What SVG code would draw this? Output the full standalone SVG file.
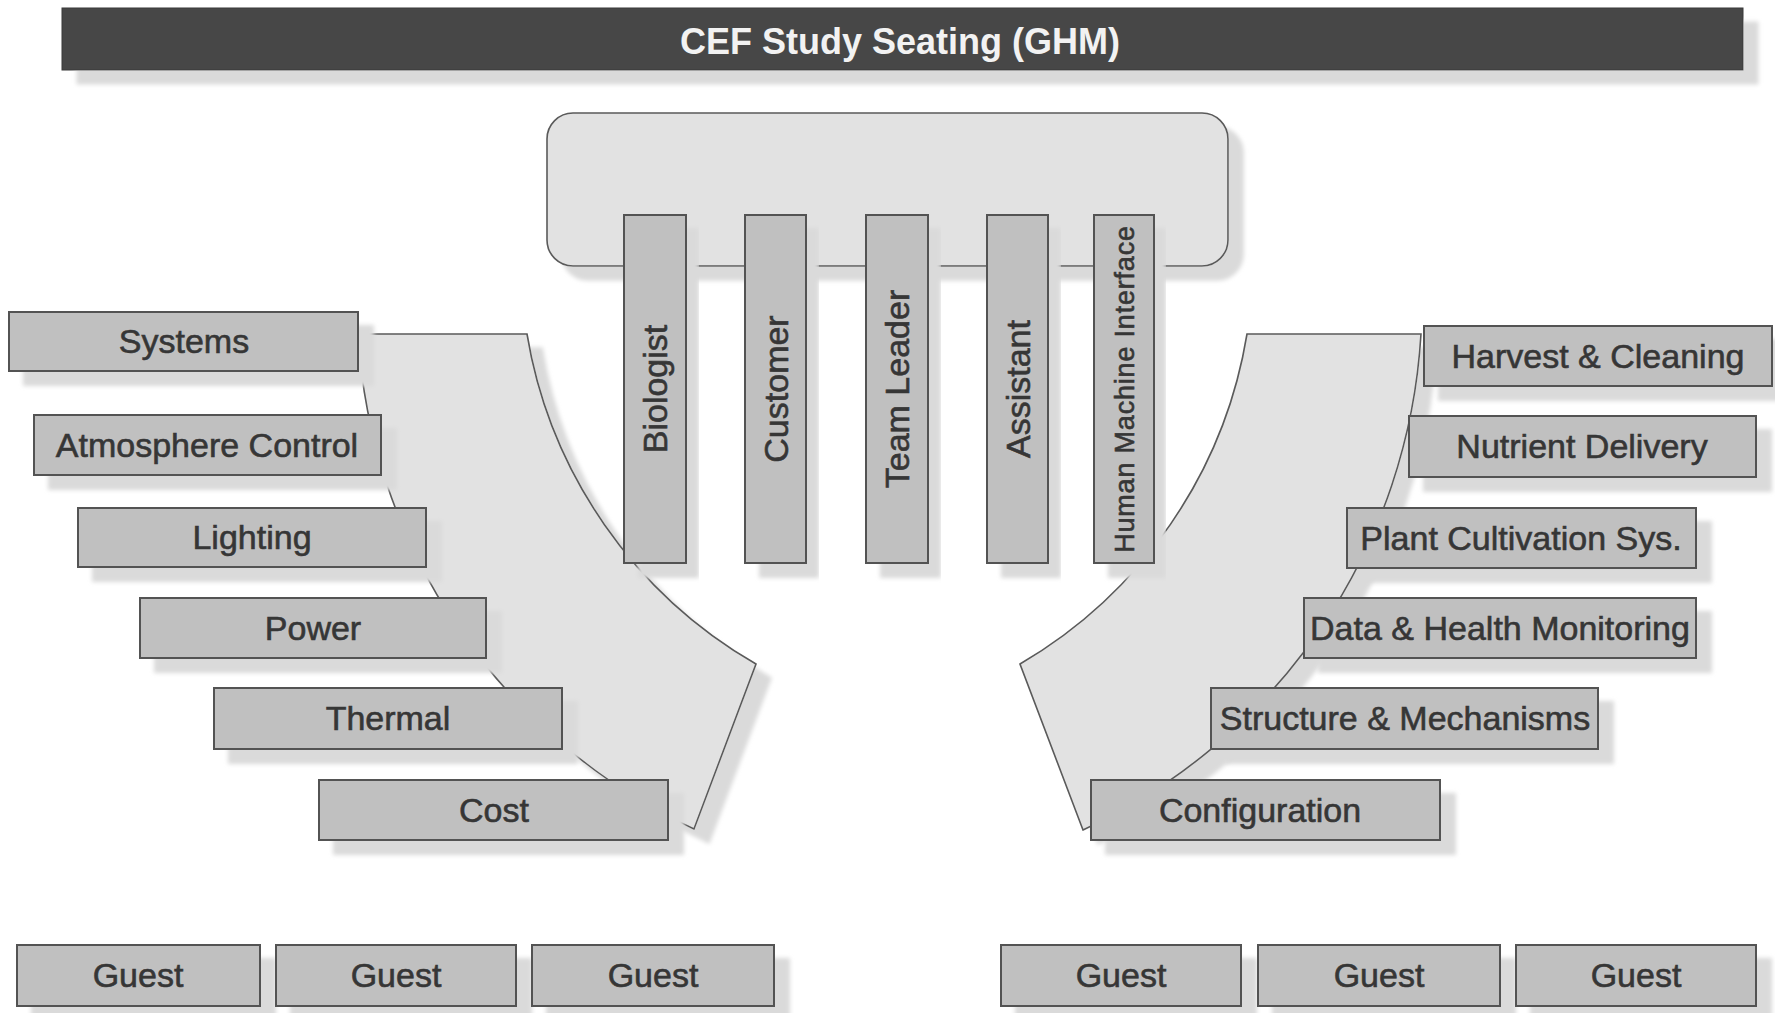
<svg xmlns="http://www.w3.org/2000/svg" width="1775" height="1013" viewBox="0 0 1775 1013">
<defs>
<filter id="sh" x="-10%" y="-10%" width="130%" height="150%">
<feOffset in="SourceAlpha" dx="15" dy="14" result="o"/>
<feGaussianBlur in="o" stdDeviation="2" result="b"/>
<feFlood flood-color="#dadada"/>
<feComposite in2="b" operator="in" result="s"/>
<feMerge><feMergeNode in="s"/><feMergeNode in="SourceGraphic"/></feMerge>
</filter>
<style>
.box{fill:#c0c0c0;stroke:#525252;stroke-width:2;filter:url(#sh)}
.area{fill:#e2e2e2;stroke:#5a5a5a;stroke-width:1.6;filter:url(#sh)}
.lbl{font-family:"Liberation Sans",Arial,sans-serif;font-size:34px;fill:#363636;stroke:#363636;stroke-width:0.6;text-anchor:middle}
.title{font-family:"Liberation Sans",Arial,sans-serif;font-size:36px;font-weight:bold;fill:#f2f2f2;text-anchor:middle}
</style>
</defs>
<rect width="1775" height="1013" fill="#ffffff"/>

<g id="title">
<rect x="62" y="8" width="1681" height="62" fill="#474747" stroke="#3a3a3a" stroke-width="1" filter="url(#sh)"/>
<text class="title" x="900" y="54">CEF Study Seating (GHM)</text>
</g>

<g id="table">
<rect class="area" x="547" y="113" width="681" height="153" rx="26" ry="26"/>
</g>

<g id="left-arc">
<path class="area" d="M358,334 L527,334 A470,470 0 0 0 756,664 L694,829 A584,584 0 0 1 358,334 Z"/>
</g>
<g id="right-arc">
<path class="area" d="M1421,334 L1247,334 A470,470 0 0 1 1020,664 L1083,830 A584,584 0 0 0 1421,334 Z"/>
</g>

<g id="biologist"><rect class="box" x="624" y="215" width="62" height="348"/><text class="lbl" transform="translate(655,389) rotate(-90)" y="12">Biologist</text></g>
<g id="customer"><rect class="box" x="745" y="215" width="61" height="348"/><text class="lbl" transform="translate(775.5,389) rotate(-90)" y="12">Customer</text></g>
<g id="team-leader"><rect class="box" x="866" y="215" width="62" height="348"/><text class="lbl" transform="translate(897,389) rotate(-90)" y="12">Team Leader</text></g>
<g id="assistant"><rect class="box" x="987" y="215" width="61" height="348"/><text class="lbl" transform="translate(1017.5,389) rotate(-90)" y="12">Assistant</text></g>
<g id="hmi"><rect class="box" x="1094" y="215" width="60" height="348"/><text class="lbl" style="font-size:27px;letter-spacing:0.8px" transform="translate(1124,389) rotate(-90)" y="10">Human Machine Interface</text></g>

<g id="systems"><rect class="box" x="9" y="312" width="349" height="59"/><text class="lbl" x="184" y="353">Systems</text></g>
<g id="atmosphere-control"><rect class="box" x="34" y="415" width="347" height="60"/><text class="lbl" x="207" y="457">Atmosphere Control</text></g>
<g id="lighting"><rect class="box" x="78" y="508" width="348" height="59"/><text class="lbl" x="252" y="549">Lighting</text></g>
<g id="power"><rect class="box" x="140" y="598" width="346" height="60"/><text class="lbl" x="313" y="640">Power</text></g>
<g id="thermal"><rect class="box" x="214" y="688" width="348" height="61"/><text class="lbl" x="388" y="730">Thermal</text></g>
<g id="cost"><rect class="box" x="319" y="780" width="349" height="60"/><text class="lbl" x="494" y="822">Cost</text></g>

<g id="harvest-cleaning"><rect class="box" x="1424" y="326" width="348" height="60"/><text class="lbl" x="1598" y="368">Harvest &amp; Cleaning</text></g>
<g id="nutrient-delivery"><rect class="box" x="1409" y="416" width="347" height="61"/><text class="lbl" x="1582" y="458">Nutrient Delivery</text></g>
<g id="plant-cultivation"><rect class="box" x="1347" y="508" width="349" height="60"/><text class="lbl" x="1521" y="550">Plant Cultivation Sys.</text></g>
<g id="data-health"><rect class="box" x="1304" y="598" width="392" height="60"/><text class="lbl" x="1500" y="640">Data &amp; Health Monitoring</text></g>
<g id="structure-mechanisms"><rect class="box" x="1211" y="688" width="387" height="61"/><text class="lbl" x="1405" y="730">Structure &amp; Mechanisms</text></g>
<g id="configuration"><rect class="box" x="1091" y="780" width="349" height="60"/><text class="lbl" x="1260" y="822">Configuration</text></g>

<g id="guest-1"><rect class="box" x="17" y="945" width="243" height="61"/><text class="lbl" x="138" y="987">Guest</text></g>
<g id="guest-2"><rect class="box" x="276" y="945" width="240" height="61"/><text class="lbl" x="396" y="987">Guest</text></g>
<g id="guest-3"><rect class="box" x="532" y="945" width="242" height="61"/><text class="lbl" x="653" y="987">Guest</text></g>
<g id="guest-4"><rect class="box" x="1001" y="945" width="240" height="61"/><text class="lbl" x="1121" y="987">Guest</text></g>
<g id="guest-5"><rect class="box" x="1258" y="945" width="242" height="61"/><text class="lbl" x="1379" y="987">Guest</text></g>
<g id="guest-6"><rect class="box" x="1516" y="945" width="240" height="61"/><text class="lbl" x="1636" y="987">Guest</text></g>
</svg>
